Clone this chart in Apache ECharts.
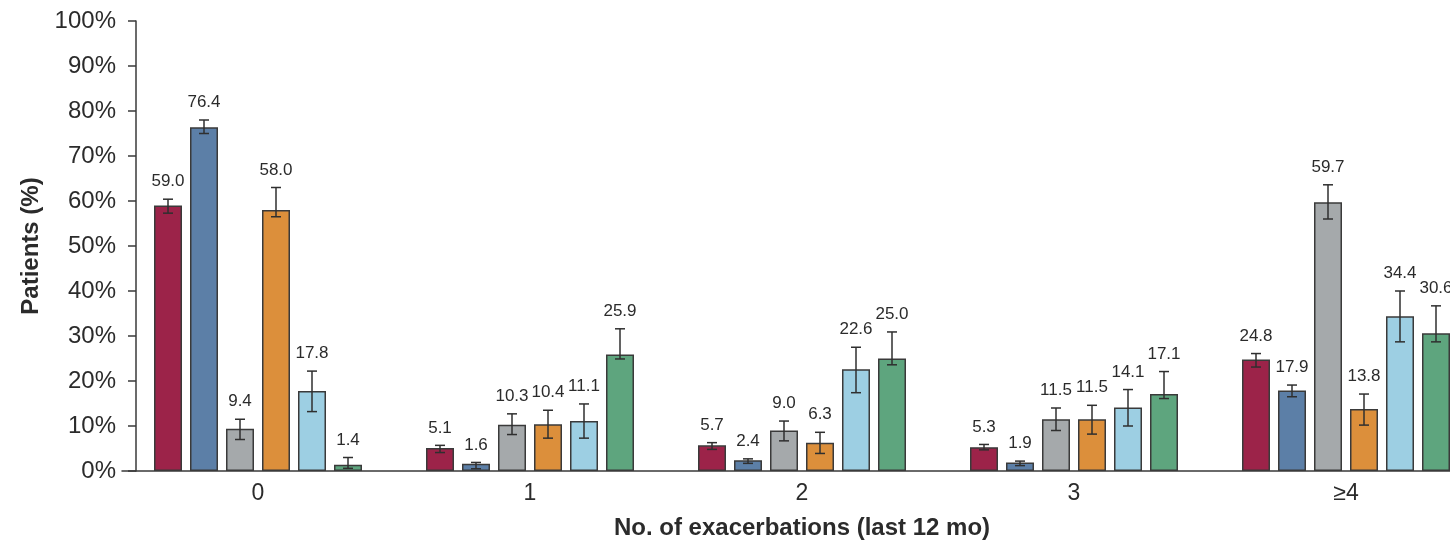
<!DOCTYPE html>
<html>
<head>
<meta charset="utf-8">
<title>Exacerbations in the last 12 months</title>
<script src="https://cdn.jsdelivr.net/npm/echarts@6/dist/echarts.min.js"></script>
<style>
  html, body { margin: 0; padding: 0; background: #ffffff; }
  #chart { width: 1450px; height: 541px; }
</style>
</head>
<body>
<div id="chart"></div>
<script>
// Number of exacerbations in the previous 12 months
const categories = ['0', '1', '2', '3', '≥4'];

// Share of patients (%) per group, one array per group
const groupNames = ['Group 1', 'Group 2', 'Group 3', 'Group 4', 'Group 5', 'Group 6'];
const group1 = [59.0, 5.1, 5.7, 5.3, 24.8];
const group2 = [76.4, 1.6, 2.4, 1.9, 17.9];
const group3 = [9.4, 10.3, 9.0, 11.5, 59.7];
const group4 = [58.0, 10.4, 6.3, 11.5, 13.8];
const group5 = [17.8, 11.1, 22.6, 14.1, 34.4];
const group6 = [1.4, 25.9, 25.0, 17.1, 30.6];

// Confidence interval bounds (%) per group
const group1Low  = [57.3, 4.1, 4.8, 4.7, 23.1];
const group1High = [60.4, 5.7, 6.3, 5.9, 26.1];
const group2Low  = [75.0, 0.5, 1.7, 1.2, 16.5];
const group2High = [78.0, 1.9, 2.7, 2.2, 19.1];
const group3Low  = [7.0, 8.1, 6.7, 9.0, 56.0];
const group3High = [11.5, 12.7, 11.1, 14.0, 63.6];
const group4Low  = [56.5, 7.3, 3.9, 8.2, 10.2];
const group4High = [63.0, 13.5, 8.6, 14.6, 17.1];
const group5Low  = [13.2, 7.3, 17.4, 10.0, 28.7];
const group5High = [22.2, 14.9, 27.5, 18.1, 40.0];
const group6Low  = [0.6, 24.9, 23.6, 16.1, 28.7];
const group6High = [3.0, 31.6, 30.9, 22.1, 36.7];

// Y axis ticks
const yMin = 0;
const yMax = 100;
const yStep = 10;

const values = [group1, group2, group3, group4, group5, group6];
const lows = [group1Low, group2Low, group3Low, group4Low, group5Low, group6Low];
const highs = [group1High, group2High, group3High, group4High, group5High, group6High];
const colors = ['#9c2349', '#5c7fa7', '#a5a9ab', '#dc8f3b', '#9dcfe3', '#5ea57e'];

const FONT = '"Liberation Sans", Arial, Helvetica, sans-serif';
const INK = '#2b2b2b';
const LINE = '#3a3a3a';
const BAR_W = 28;
const BAR_GAP = 8;
const N = values.length;

const chart = echarts.init(document.getElementById('chart'), null, { renderer: 'canvas' });

const barSeries = values.map((vals, k) => ({
  name: groupNames[k],
  type: 'bar',
  data: vals,
  barWidth: BAR_W,
  barGap: (BAR_GAP / BAR_W * 100) + '%',
  itemStyle: { color: colors[k], borderColor: LINE, borderWidth: 1.5 },
  emphasis: { disabled: true },
  z: 2
}));

// Whiskers with caps plus the value label above each whisker
const errorSeries = values.map((vals, k) => ({
  name: groupNames[k] + ' CI',
  type: 'custom',
  z: 3,
  silent: true,
  data: vals.map((v, i) => [i, lows[k][i], highs[k][i], v]),
  encode: { x: 0, y: [1, 2] },
  renderItem: function (params, api) {
    const ci = api.value(0);
    const offset = (k - (N - 1) / 2) * (BAR_W + BAR_GAP);
    const lo = api.coord([ci, api.value(1)]);
    const hi = api.coord([ci, api.value(2)]);
    const x = lo[0] + offset;
    const cap = 5;
    const style = { stroke: '#2f2f2f', lineWidth: 1.5, fill: null };
    return {
      type: 'group',
      children: [
        { type: 'line', shape: { x1: x, y1: hi[1], x2: x, y2: lo[1] }, style: style },
        { type: 'line', shape: { x1: x - cap, y1: hi[1], x2: x + cap, y2: hi[1] }, style: style },
        { type: 'line', shape: { x1: x - cap, y1: lo[1], x2: x + cap, y2: lo[1] }, style: style },
        {
          type: 'text',
          x: x,
          y: hi[1] - 9,
          style: {
            text: api.value(3).toFixed(1),
            fill: INK,
            font: '17px ' + FONT,
            align: 'center',
            verticalAlign: 'bottom'
          }
        }
      ]
    };
  }
}));

chart.setOption({
  animation: false,
  backgroundColor: '#ffffff',
  textStyle: { fontFamily: FONT },
  grid: {
    left: 122,
    top: 21,
    width: 1360,
    height: 450,
    containLabel: false,
    outerBoundsMode: 'none'
  },
  xAxis: {
    type: 'category',
    data: categories,
    name: 'No. of exacerbations (last 12 mo)',
    nameLocation: 'middle',
    nameGap: 45,
    nameTextStyle: { fontFamily: FONT, fontSize: 24, fontWeight: 'bold', color: INK },
    axisLine: { show: true, lineStyle: { color: LINE, width: 1.5 } },
    axisTick: { show: false },
    axisLabel: { fontFamily: FONT, fontSize: 23, color: INK, margin: 11 },
    splitLine: { show: false }
  },
  yAxis: {
    type: 'value',
    min: yMin,
    max: yMax,
    interval: yStep,
    offset: -14,
    name: 'Patients (%)',
    nameLocation: 'middle',
    nameGap: 91,
    nameTextStyle: { fontFamily: FONT, fontSize: 24, fontWeight: 'bold', color: INK },
    axisLine: { show: true, lineStyle: { color: LINE, width: 1.5 } },
    axisTick: { show: true, length: 8, lineStyle: { color: LINE, width: 1.5 } },
    axisLabel: { fontFamily: FONT, fontSize: 24, color: INK, margin: 20, formatter: '{value}%' },
    splitLine: { show: false }
  },
  tooltip: { show: false },
  series: barSeries.concat(errorSeries)
});
</script>
</body>
</html>
